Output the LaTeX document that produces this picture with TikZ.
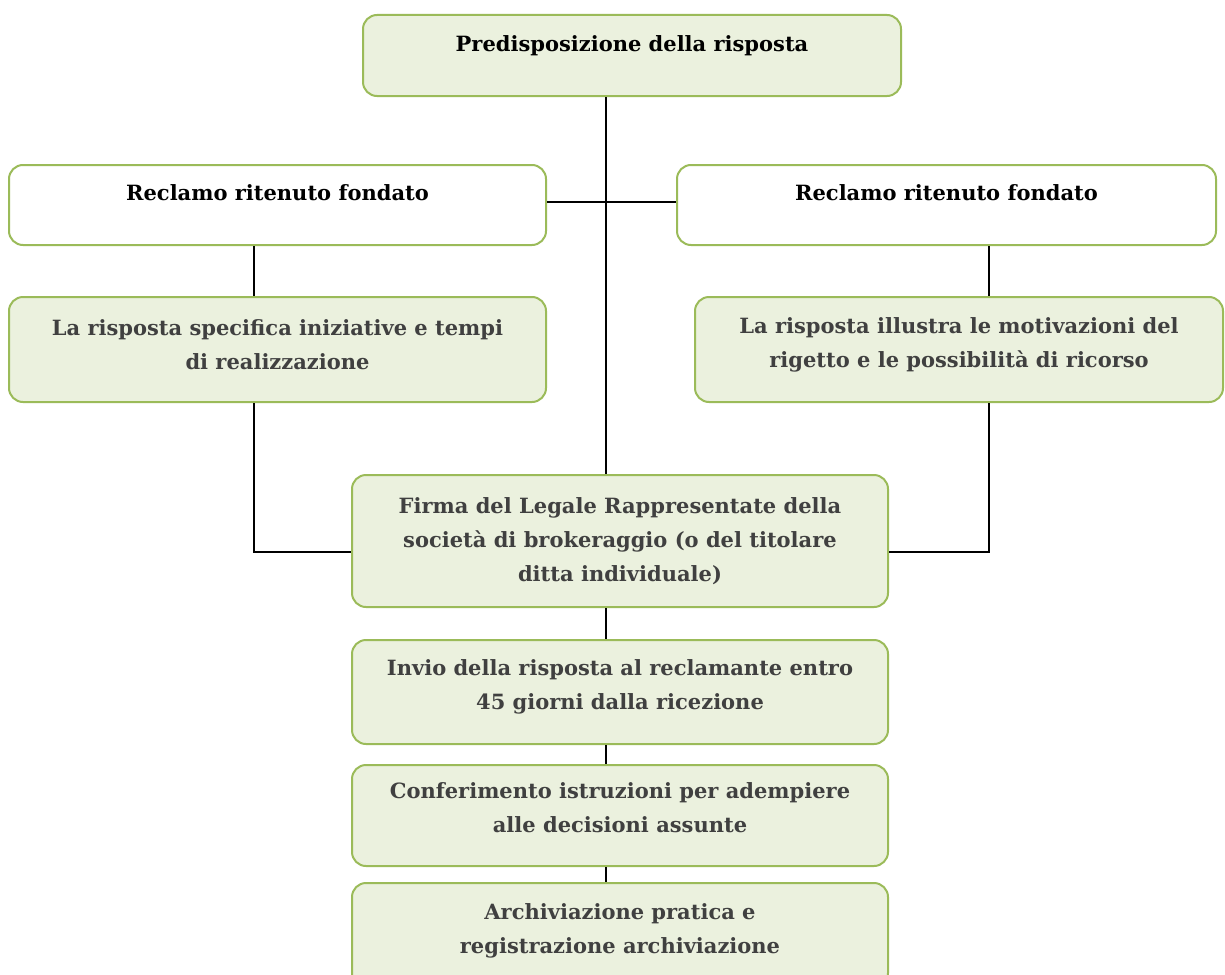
\documentclass[tikz,border=0pt]{standalone}
\usepackage{fontspec}
\setmainfont{DejaVu Serif}
\usepackage[HTML]{xcolor}
\usetikzlibrary{positioning}

\definecolor{boxline}{HTML}{9BBB59}
\definecolor{boxfill}{HTML}{EBF1DE}
\definecolor{boxtext}{HTML}{404040}

\tikzset{
  flowbox/.style={draw=boxline, line width=2pt, rounded corners=14pt, fill=boxfill,
    minimum width=#1, inner sep=0pt},
  flowbox/.default=536pt,
  plainbox/.style={flowbox=#1, fill=white},
  plainbox/.default=537pt,
  boxlabel/.style={align=center, font=\bfseries\fontsize{21}{34}\selectfont, text=boxtext},
  link/.style={line width=2pt, black}
}

\begin{document}
\begin{tikzpicture}[x=1pt, y=-1pt]
\useasboundingbox (0,0) rectangle (1225,974);
\clip (0,0) rectangle (1225,974);

% Top box
\node[flowbox=538pt, minimum height=81pt,
  label={[boxlabel, text=black, yshift=10pt]center:Predisposizione della risposta}]
  (pred) at (632,55.5) {};

% Outcome boxes
\node[plainbox, minimum height=80pt,
  label={[boxlabel, text=black, yshift=12pt]center:Reclamo ritenuto fondato}]
  (recL) at (277.5,205) {};
\node[plainbox=539pt, minimum height=80pt,
  label={[boxlabel, text=black, yshift=12pt]center:Reclamo ritenuto fondato}]
  (recR) at (946.5,205) {};

% Answer boxes
\node[flowbox=537pt, minimum height=105pt,
  label={[boxlabel, yshift=5pt]center:La risposta specifica iniziative e tempi\\di realizzazione}]
  (rispL) at (277.5,349.5) {};
\node[flowbox=528pt, minimum height=105pt,
  label={[boxlabel, yshift=5pt]center:La risposta illustra le motivazioni del\\rigetto e le possibilità di ricorso}]
  (rispR) at (959,349.5) {};

% Main column
\node[flowbox, minimum height=132pt,
  label={[boxlabel, yshift=0pt]center:Firma del Legale Rappresentate della\\società di brokeraggio (o del titolare\\ditta individuale)}]
  (firma) at (620,541) {};
\node[flowbox, minimum height=104pt,
  label={[boxlabel, yshift=5pt]center:Invio della risposta al reclamante entro\\45 giorni dalla ricezione}]
  (invio) at (620,692) {};
\node[flowbox, minimum height=101pt,
  label={[boxlabel, yshift=8pt]center:Conferimento istruzioni per adempiere\\alle decisioni assunte}]
  (conf) at (620,815.5) {};
\node[flowbox, minimum height=104pt,
  label={[boxlabel, yshift=4pt]center:Archiviazione pratica e\\registrazione archiviazione}]
  (arch) at (620,935) {};

% Connectors
\coordinate (trunk) at (606,0);
\coordinate (legL) at (254,0);
\coordinate (legR) at (989,0);
\draw[link] (trunk |- pred.south) -- (trunk |- firma.north);
\draw[link] ([yshift=3pt]recL.east) -- ([yshift=3pt]recR.west);
\draw[link] (legL |- recL.south) -- (legL |- rispL.north);
\draw[link] (legR |- recR.south) -- (legR |- rispR.north);
\draw[link] (legL |- rispL.south) |- ([yshift=-11pt]firma.west);
\draw[link] (legR |- rispR.south) |- ([yshift=-11pt]firma.east);
\draw[link] (trunk |- firma.south) -- (trunk |- invio.north);
\draw[link] (trunk |- invio.south) -- (trunk |- conf.north);
\draw[link] (trunk |- conf.south) -- (trunk |- arch.north);

\end{tikzpicture}
\end{document}
